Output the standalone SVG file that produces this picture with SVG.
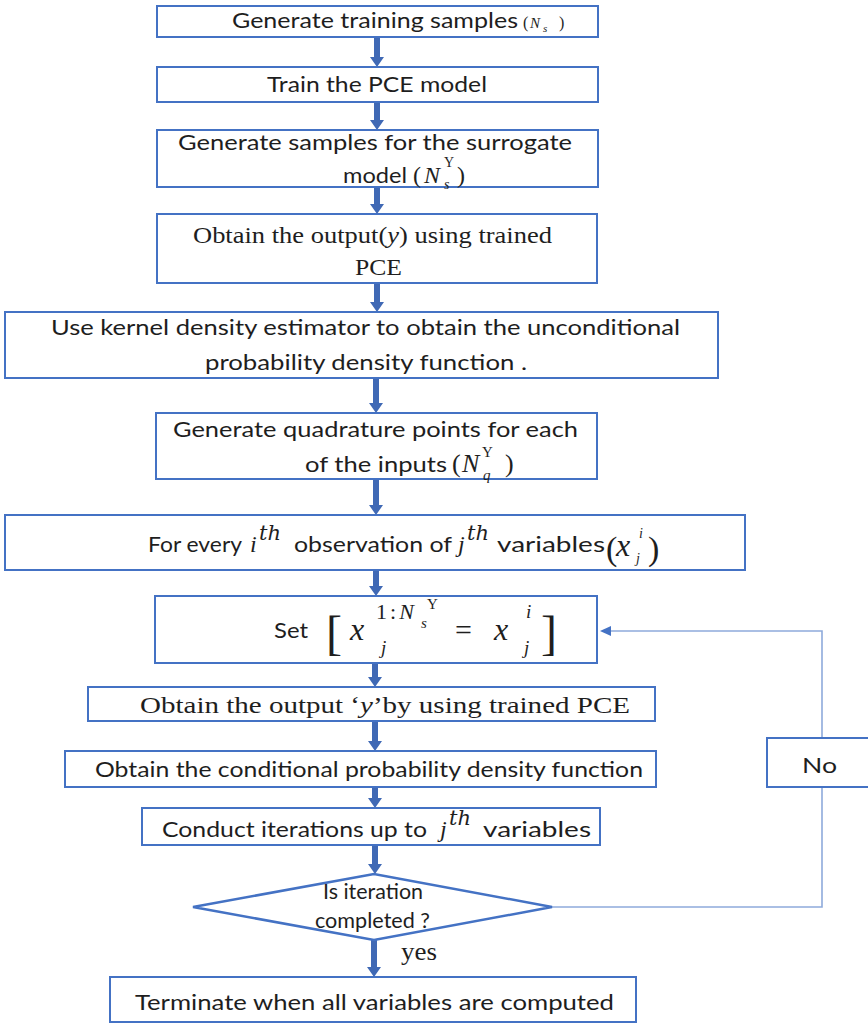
<svg xmlns="http://www.w3.org/2000/svg" width="868" height="1024" viewBox="0 0 868 1024">
<style>
.box{fill:#fff;stroke:#4472c4;stroke-width:2}
.t{font-family:Lato,"Liberation Sans",sans-serif;font-size:22px;fill:#1e1e1e}
.s{font-family:"Liberation Serif","Times New Roman",serif;fill:#1e1e1e}
.d{font-family:"DejaVu Serif","Liberation Serif",serif;font-style:italic;fill:#1e1e1e}
.i{font-style:italic}
.arr{fill:#4069b5}
.loop{fill:none;stroke:#8eaadb;stroke-width:1.6}
</style>
<rect width="868" height="1024" fill="#fff"/>
<g id="connectors">
<path class="arr" d="M374,37H380V57H384L377,67L370,57H374Z"/>
<path class="arr" d="M374,102H380V120H384L377,130L370,120H374Z"/>
<path class="arr" d="M374,187H380V204H384L377,214L370,204H374Z"/>
<path class="arr" d="M374,283H380V302H384L377,312L370,302H374Z"/>
<path class="arr" d="M373,378H379V403H383L376,413L369,403H373Z"/>
<path class="arr" d="M373,479H379V505H383L376,515L369,505H373Z"/>
<path class="arr" d="M373,570H379V586H383L376,596L369,586H373Z"/>
<path class="arr" d="M372,663H378V677H382L375,687L368,677H372Z"/>
<path class="arr" d="M372,721H378V741H382L375,751L368,741H372Z"/>
<path class="arr" d="M372,787H378V798H382L375,808L368,798H372Z"/>
<path class="arr" d="M372,845H378V864H382L375,874L368,864H372Z"/>
<path class="arr" d="M371,940H377V967H381L374,977L367,967H371Z"/>
<polyline class="loop" points="552,907 822,907 822,631 610,631"/>
<polygon fill="#4472c4" points="600,631 611,626 611,636"/>
<text class="s" x="401" y="960" font-size="26" textLength="36" lengthAdjust="spacingAndGlyphs">yes</text>
</g>
<g id="n1">
<rect class="box" x="157" y="6" width="441" height="31"/>
<text class="t" x="232" y="28" textLength="286" lengthAdjust="spacingAndGlyphs">Generate training samples</text>
<text class="s" x="523" y="28" font-size="16">(</text>
<text class="s i" x="530" y="28" font-size="15">N</text>
<text class="s i" x="543" y="32" font-size="11">s</text>
<text class="s" x="559" y="28" font-size="16">)</text>
</g>
<g id="n2">
<rect class="box" x="157" y="67" width="441" height="35"/>
<text class="t" x="267" y="92" textLength="220" lengthAdjust="spacingAndGlyphs">Train the PCE model</text>
</g>
<g id="n3">
<rect class="box" x="157" y="130" width="441" height="57"/>
<text class="t" x="178" y="150" textLength="394" lengthAdjust="spacingAndGlyphs">Generate samples for the surrogate</text>
<text class="t" x="343" y="183" textLength="64" lengthAdjust="spacingAndGlyphs">model</text>
<text class="s" x="413" y="183" font-size="24">(</text>
<text class="s i" x="424" y="183" font-size="24">N</text>
<text class="s" x="444" y="167" font-size="14">Y</text>
<text class="s i" x="444" y="189" font-size="14">s</text>
<text class="s" x="457" y="183" font-size="24">)</text>
</g>
<g id="n4">
<rect class="box" x="157" y="214" width="440" height="69"/>
<text class="s" x="193" y="243" font-size="24" textLength="359" lengthAdjust="spacingAndGlyphs">Obtain the output(<tspan class="i">y</tspan>) using trained</text>
<text class="s" x="355" y="275" font-size="24" textLength="47" lengthAdjust="spacingAndGlyphs">PCE</text>
</g>
<g id="n5">
<rect class="box" x="5" y="312" width="713" height="66"/>
<text class="t" x="51" y="335" textLength="629" lengthAdjust="spacingAndGlyphs">Use kernel density estimator to obtain the unconditional</text>
<text class="t" x="205" y="370" textLength="322" lengthAdjust="spacingAndGlyphs">probability density function .</text>
</g>
<g id="n6">
<rect class="box" x="156" y="413" width="441" height="66"/>
<text class="t" x="173" y="437" textLength="405" lengthAdjust="spacingAndGlyphs">Generate quadrature points for each</text>
<text class="t" x="305" y="472" textLength="142" lengthAdjust="spacingAndGlyphs">of the inputs</text>
<text class="s" x="452" y="472" font-size="26">(</text>
<text class="s i" x="462" y="472" font-size="26">N</text>
<text class="s" x="482" y="457" font-size="15">Y</text>
<text class="s i" x="483" y="480" font-size="15">q</text>
<text class="s" x="505" y="472" font-size="26">)</text>
</g>
<g id="n7">
<rect class="box" x="5" y="515" width="740" height="55"/>
<text class="t" x="148" y="552" textLength="94" lengthAdjust="spacingAndGlyphs">For every</text>
<text class="s i" x="250" y="552" font-size="24">i</text>
<text class="d" x="259" y="540" font-size="21">th</text>
<text class="t" x="294" y="552" textLength="158" lengthAdjust="spacingAndGlyphs">observation of</text>
<text class="s i" x="458" y="552" font-size="24">j</text>
<text class="d" x="467" y="540" font-size="21">th</text>
<text class="t" x="497" y="552" textLength="108" lengthAdjust="spacingAndGlyphs">variables</text>
<text class="s" x="606" y="560" font-size="34">(</text>
<text class="s i" x="616" y="556" font-size="32">x</text>
<text class="s i" x="639" y="538" font-size="14">i</text>
<text class="s i" x="636" y="563" font-size="14">j</text>
<text class="s" x="648" y="560" font-size="34">)</text>
</g>
<g id="n8">
<rect class="box" x="155" y="596" width="442" height="67"/>
<text class="t" x="274" y="638" textLength="34" lengthAdjust="spacingAndGlyphs">Set</text>
<text class="s" x="326" y="649" font-size="48">[</text>
<text class="s i" x="350" y="640" font-size="32">x</text>
<text class="s" x="376" y="619" font-size="22" letter-spacing="3">1:<tspan class="i">N</tspan></text>
<text class="s i" x="421" y="628" font-size="15">s</text>
<text class="s" x="427" y="609" font-size="15">Y</text>
<text class="s i" x="381" y="654" font-size="19">j</text>
<text class="s" x="455" y="640" font-size="30">=</text>
<text class="s i" x="494" y="640" font-size="32">x</text>
<text class="s i" x="526" y="618" font-size="19">i</text>
<text class="s i" x="524" y="654" font-size="19">j</text>
<text class="s" x="541" y="649" font-size="48">]</text>
</g>
<g id="n9">
<rect class="box" x="88" y="687" width="567" height="34"/>
<text class="s" x="140" y="713" font-size="24" textLength="490" lengthAdjust="spacingAndGlyphs">Obtain the output ‘<tspan class="i">y</tspan>’by using trained PCE</text>
</g>
<g id="n10">
<rect class="box" x="65" y="751" width="591" height="36"/>
<text class="t" x="95" y="777" textLength="548" lengthAdjust="spacingAndGlyphs">Obtain the conditional probability density function</text>
</g>
<g id="n11">
<rect class="box" x="142" y="808" width="458" height="37"/>
<text class="t" x="162" y="837" textLength="265" lengthAdjust="spacingAndGlyphs">Conduct iterations up to</text>
<text class="s i" x="440" y="837" font-size="24">j</text>
<text class="d" x="449" y="825" font-size="21">th</text>
<text class="t" x="483" y="837" textLength="108" lengthAdjust="spacingAndGlyphs">variables</text>
</g>
<g id="n12">
<polygon points="193,907 374,874 552,907 374,940" fill="#fff" stroke="#4472c4" stroke-width="2.5"/>
<text class="t" x="323" y="899" font-size="19" textLength="100" lengthAdjust="spacingAndGlyphs">Is iteration</text>
<text class="t" x="315" y="928" font-size="19" textLength="115" lengthAdjust="spacingAndGlyphs">completed ?</text>
</g>
<g id="n13">
<rect class="box" x="110" y="977" width="526" height="45"/>
<text class="t" x="135" y="1010" textLength="479" lengthAdjust="spacingAndGlyphs">Terminate when all variables are computed</text>
</g>
<g id="n14">
<rect class="box" x="767" y="738" width="110" height="49"/>
<text class="t" x="802" y="773" font-size="24" textLength="35" lengthAdjust="spacingAndGlyphs">No</text>
</g>
</svg>
